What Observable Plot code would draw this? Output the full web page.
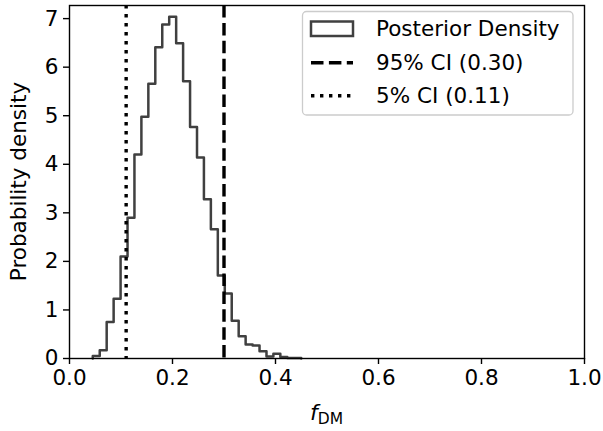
<!DOCTYPE html>
<html>
<head>
<meta charset="utf-8">
<script src="https://cdn.jsdelivr.net/npm/d3@7"></script>
<script src="https://cdn.jsdelivr.net/npm/@observablehq/plot@0.6"></script>
<style>
  html, body { margin: 0; padding: 0; background: #fff; }
  #chart svg { display: block; }
</style>
</head>
<body>
<div id="chart"></div>
<script>
// Histogram bin edges (f_DM) and posterior density per bin
const binEdges = [0.0452, 0.0587, 0.0722, 0.0857, 0.0992, 0.1127, 0.1261, 0.1396, 0.1531, 0.1666,
                  0.1801, 0.1936, 0.2071, 0.2206, 0.2341, 0.2476, 0.2610, 0.2745, 0.2880, 0.3015,
                  0.3150, 0.3285, 0.3420, 0.3555, 0.3690, 0.3825, 0.3959, 0.4094, 0.4229, 0.4364, 0.4499];
const densities = [0.05, 0.17, 0.75, 1.23, 2.10, 2.90, 4.20, 4.98, 5.66, 6.41,
                   6.88, 7.04, 6.49, 5.71, 4.77, 4.14, 3.28, 2.66, 1.71, 1.34,
                   0.78, 0.46, 0.29, 0.27, 0.15, 0.04, 0.10, 0.03, 0.01, 0.01];
const ci95 = 0.30;
const ci5 = 0.11;
const legendLabels = ["Posterior Density", "95% CI (0.30)", "5% CI (0.11)"];
const xTicks = [0, 0.2, 0.4, 0.6, 0.8, 1.0];
const yTicks = [0, 1, 2, 3, 4, 5, 6, 7];

// Step outline points
const steps = [{x: binEdges[0], y: 0}];
densities.forEach((d, i) => steps.push({x: binEdges[i], y: d}));
steps.push({x: binEdges[binEdges.length - 1], y: densities[densities.length - 1]});
steps.push({x: binEdges[binEdges.length - 1], y: 0});

const W = 603, H = 431;
const mL = 69, mR = 19, mT = 5, mB = 73;
const FS = 21.5;

const chart = Plot.plot({
  width: W,
  height: H,
  marginLeft: mL,
  marginRight: mR,
  marginTop: mT,
  marginBottom: mB,
  style: {fontSize: FS + "px", fontFamily: "DejaVu Sans", background: "white", color: "black", overflow: "visible"},
  x: {domain: [0, 1]},
  y: {domain: [0, 7.27]},
  marks: [
    Plot.line(steps, {x: "x", y: "y", curve: "step-after", stroke: "#404040", strokeWidth: 2.5}),
    Plot.ruleX([ci95], {stroke: "black", strokeWidth: 3.4, strokeDasharray: "12.5,5.4"}),
    Plot.ruleX([ci5], {stroke: "black", strokeWidth: 3.4, strokeDasharray: "3.4,5.6"}),
    Plot.frame({stroke: "black", strokeWidth: 1.4}),
    Plot.axisX({ticks: xTicks, tickFormat: d3.format(".1f"), tickSize: 6, tickPadding: 5, label: null, strokeWidth: 1.4}),
    Plot.axisY({ticks: yTicks, tickFormat: d3.format("d"), tickSize: 6, tickPadding: 5, label: null, strokeWidth: 1.4})
  ]
});

document.getElementById("chart").appendChild(chart);

const svg = d3.select(chart);
const cx = (mL + (W - mR)) / 2;
const cy = (mT + (H - mB)) / 2;

// y axis label
svg.append("text")
  .attr("transform", `translate(26,${cy}) rotate(-90)`)
  .attr("text-anchor", "middle")
  .attr("font-size", FS)
  .attr("font-family", "DejaVu Sans")
  .attr("fill", "black")
  .text("Probability density");

// x axis label f_DM
const xl = svg.append("text")
  .attr("x", cx)
  .attr("y", 420)
  .attr("text-anchor", "middle")
  .attr("font-family", "DejaVu Sans")
  .attr("fill", "black");
xl.append("tspan").attr("font-style", "italic").attr("font-size", 22).text("f");
xl.append("tspan").attr("font-size", 15.5).attr("dy", 4).text("DM");

// legend
const lg = svg.append("g");
lg.append("rect")
  .attr("x", 302.5).attr("y", 11.5).attr("width", 270.5).attr("height", 103.5)
  .attr("rx", 4).attr("fill", "white").attr("fill-opacity", 0.8)
  .attr("stroke", "#cccccc").attr("stroke-width", 1.3);
lg.append("rect")
  .attr("x", 311).attr("y", 21.5).attr("width", 42).attr("height", 14.5)
  .attr("fill", "none").attr("stroke", "#404040").attr("stroke-width", 2.5);
lg.append("line")
  .attr("x1", 311).attr("x2", 353).attr("y1", 62.7).attr("y2", 62.7)
  .attr("stroke", "black").attr("stroke-width", 3.4).attr("stroke-dasharray", "12.5,5.4");
lg.append("line")
  .attr("x1", 311).attr("x2", 353).attr("y1", 95.7).attr("y2", 95.7)
  .attr("stroke", "black").attr("stroke-width", 3.4).attr("stroke-dasharray", "3.4,5.6");
const baselines = [36.3, 70.3, 103.3];
legendLabels.forEach((t, i) => {
  lg.append("text")
    .attr("x", 376).attr("y", baselines[i])
    .attr("text-anchor", "start")
    .attr("font-size", FS).attr("font-family", "DejaVu Sans").attr("fill", "black")
    .text(t);
});
</script>
</body>
</html>
